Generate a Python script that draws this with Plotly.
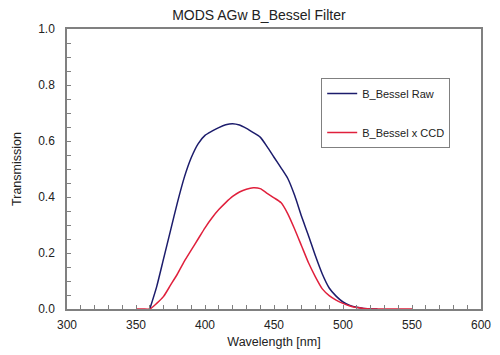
import plotly.graph_objects as go

raw_wl = [360, 365, 370, 375, 380, 385, 390, 395, 400, 405, 410, 415, 420, 425, 430, 435, 440,
          445, 450, 455, 460, 465, 470, 475, 480, 485, 490, 495, 500, 505, 510, 515, 520, 525]
raw_t = [0.0, 0.08, 0.18, 0.28, 0.38, 0.47, 0.54, 0.59, 0.62, 0.635, 0.648, 0.658, 0.662, 0.657,
         0.645, 0.63, 0.614, 0.58, 0.542, 0.505, 0.466, 0.405, 0.33, 0.262, 0.19, 0.125, 0.075,
         0.046, 0.025, 0.013, 0.006, 0.002, 0.0, 0.0]

ccd_wl = [350, 355, 360, 365, 370, 375, 380, 385, 390, 395, 400, 405, 410, 415, 420, 425, 430,
          435, 440, 445, 450, 455, 460, 465, 470, 475, 480, 485, 490, 495, 500, 505, 510, 515,
          520, 530, 540, 550]
ccd_t = [0.0, 0.0, 0.0, 0.02, 0.045, 0.085, 0.125, 0.17, 0.21, 0.25, 0.29, 0.325, 0.355, 0.38,
         0.402, 0.418, 0.428, 0.433, 0.43, 0.413, 0.397, 0.38, 0.34, 0.285, 0.225, 0.165, 0.115,
         0.072, 0.048, 0.032, 0.02, 0.011, 0.005, 0.002, 0.0, 0.0, 0.0, 0.0]

fig = go.Figure()
fig.add_trace(go.Scatter(x=raw_wl, y=raw_t, mode="lines", name="B_Bessel Raw",
                         line=dict(color="#1c1c6c", width=1.5, shape="spline", smoothing=0.6),
                         legendgroup="a"))
fig.add_trace(go.Scatter(x=ccd_wl, y=ccd_t, mode="lines", name="B_Bessel x CCD",
                         line=dict(color="#e0203c", width=1.5, shape="spline", smoothing=0.6),
                         legendgroup="b"))

FONT = "Arial, Liberation Sans"
axis_common = dict(showline=True, linecolor="#808080", linewidth=1.5, mirror=True,
                   ticks="inside", ticklen=4, tickcolor="#808080", showgrid=False,
                   zeroline=False, automargin=False,
                   tickfont=dict(family=FONT, size=12, color="#222"))

fig.update_xaxes(range=[300, 600], dtick=50, tick0=300, ticklabelstandoff=4,
                 title=dict(text="Wavelength [nm]", font=dict(family=FONT, size=12.5, color="#222"), standoff=6),
                 minor=dict(dtick=10, ticks="inside", ticklen=4, tickcolor="#808080"),
                 **axis_common)
fig.update_yaxes(range=[0, 1.0], dtick=0.2, tickformat=".1f", ticklabelstandoff=8,
                 title=dict(text="Transmission", font=dict(family=FONT, size=12.5, color="#222"), standoff=14),
                 minor=dict(dtick=0.05, ticks="inside", ticklen=4, tickcolor="#808080"),
                 **axis_common)

# page body has an 8px margin, so the figure is sized/offset to compensate
fig.update_layout(
    width=492, height=347,
    margin=dict(l=59, r=19, t=21, b=46),
    paper_bgcolor="white", plot_bgcolor="white",
    title=dict(text="MODS AGw B_Bessel Filter", x=0.51, xanchor="center", y=0.98, yanchor="middle",
               font=dict(family=FONT, size=14, color="#222")),
    legend=dict(x=0.614, y=0.825, xanchor="left", yanchor="top",
                bgcolor="white", bordercolor="#808080", borderwidth=1,
                font=dict(family=FONT, size=11, color="#222"),
                tracegroupgap=20, itemwidth=30),
    showlegend=True,
)

fig.write_html("out.html")
